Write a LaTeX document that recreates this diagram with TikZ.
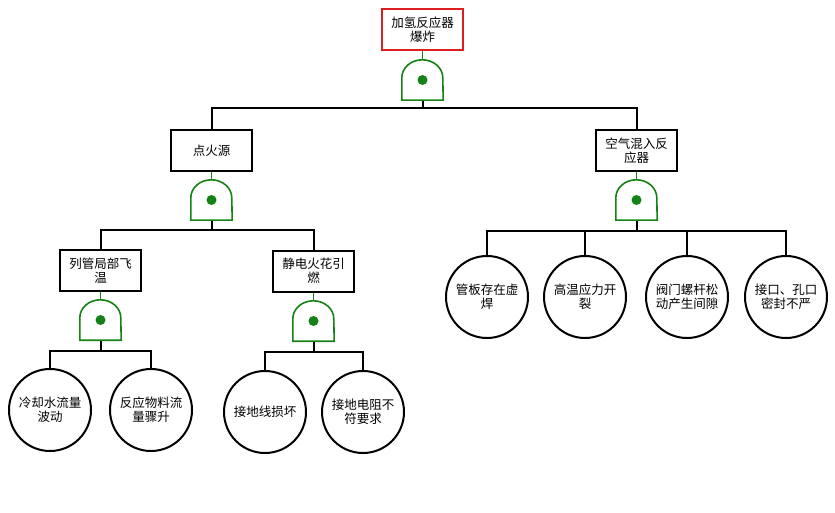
\documentclass[tikz,border=0pt]{standalone}
\usepackage{fontspec}
\setmainfont{Noto Sans CJK SC}
\definecolor{gategreen}{RGB}{20,130,20}
\definecolor{topred}{RGB}{220,30,30}
\tikzset{
  evbox/.style={draw=black, line width=2pt, minimum width=81pt, minimum height=41pt, inner sep=1pt, align=center, font=\fontsize{12.5}{14}\selectfont},
  topbox/.style={evbox, draw=topred},
  basic/.style={draw=black, line width=2pt, circle, minimum size=82pt, inner sep=0pt, align=center, font=\fontsize{12.5}{14}\selectfont},
  andgate/.style={minimum width=41pt, minimum height=40pt, inner sep=0pt},
  conn/.style={draw=black, line width=2pt},
  gconn/.style={draw=gategreen, line width=1.6pt},
}
\newcommand\gateshape[1]{%
  \draw[gategreen, line width=1.6pt] (#1.south west) -- ([yshift=-18pt]#1.north west)
    arc[start angle=180, end angle=0, x radius=20.5pt, y radius=18pt] -- (#1.south east) -- cycle;
  \fill[gategreen] (#1.center) circle (5pt);}
\begin{document}
\begin{tikzpicture}[x=1pt,y=-1pt]
\useasboundingbox (0,0) rectangle (835,513);
% events
\node[topbox] (top) at (422.5,30) {加氢反应器\\爆炸};
\node[andgate] (g1) at (422.5,80) {};
\node[evbox] (b1) at (211.5,150.5) {点火源};
\node[evbox] (b2) at (636.5,150.5) {空气混入反\\应器};
\node[andgate] (g2) at (211.5,200) {};
\node[andgate] (g3) at (636.5,200) {};
\node[evbox] (b3) at (100.5,270.5) {列管局部飞\\温};
\node[evbox] (b4) at (313.5,271) {静电火花引\\燃};
\node[andgate] (g4) at (100.5,320) {};
\node[andgate] (g5) at (313.5,321) {};
% basic events
\node[basic] (c1) at (50,410) {冷却水流量\\波动};
\node[basic] (c2) at (151,410) {反应物料流\\量骤升};
\node[basic] (c3) at (265,412) {接地线损坏};
\node[basic] (c4) at (363,412) {接地电阻不\\符要求};
\node[basic] (c5) at (487,297) {管板存在虚\\焊};
\node[basic] (c6) at (585,297) {高温应力开\\裂};
\node[basic] (c7) at (687,297) {阀门螺杆松\\动产生间隙};
\node[basic] (c8) at (786,297) {接口、孔口\\密封不严};
% bar levels
\coordinate (y1) at (0,108);
\coordinate (y2) at (0,230);
\coordinate (y3) at (0,231);
\coordinate (y4) at (0,351);
\coordinate (y5) at (0,352);
% gate-input stems
\draw[gconn] (top.south) -- (g1.north);
\draw[gconn] (b1.south) -- (g2.north);
\draw[gconn] (b2.south) -- (g3.north);
\draw[gconn] (b3.south) -- (g4.north);
\draw[gconn] (b4.south) -- (g5.north);
% connectors
\draw[conn] (g1.south) -- (g1.south |- y1) -| (b1.north);
\draw[conn] (g1.south |- y1) -| (b2.north);
\draw[conn] (g2.south) -- (g2.south |- y2) -| (b3.north);
\draw[conn] (g2.south |- y2) -| (b4.north);
\draw[conn] (g3.south) -- (g3.south |- y3) -| (c5.north);
\draw[conn] (g3.south |- y3) -| (c6.north);
\draw[conn] (g3.south |- y3) -| (c7.north);
\draw[conn] (g3.south |- y3) -| (c8.north);
\draw[conn] (g4.south) -- (g4.south |- y4) -| (c1.north);
\draw[conn] (g4.south |- y4) -| (c2.north);
\draw[conn] (g5.south) -- (g5.south |- y5) -| (c3.north);
\draw[conn] (g5.south |- y5) -| (c4.north);
% gates
\gateshape{g1}
\gateshape{g2}
\gateshape{g3}
\gateshape{g4}
\gateshape{g5}
\end{tikzpicture}
\end{document}
